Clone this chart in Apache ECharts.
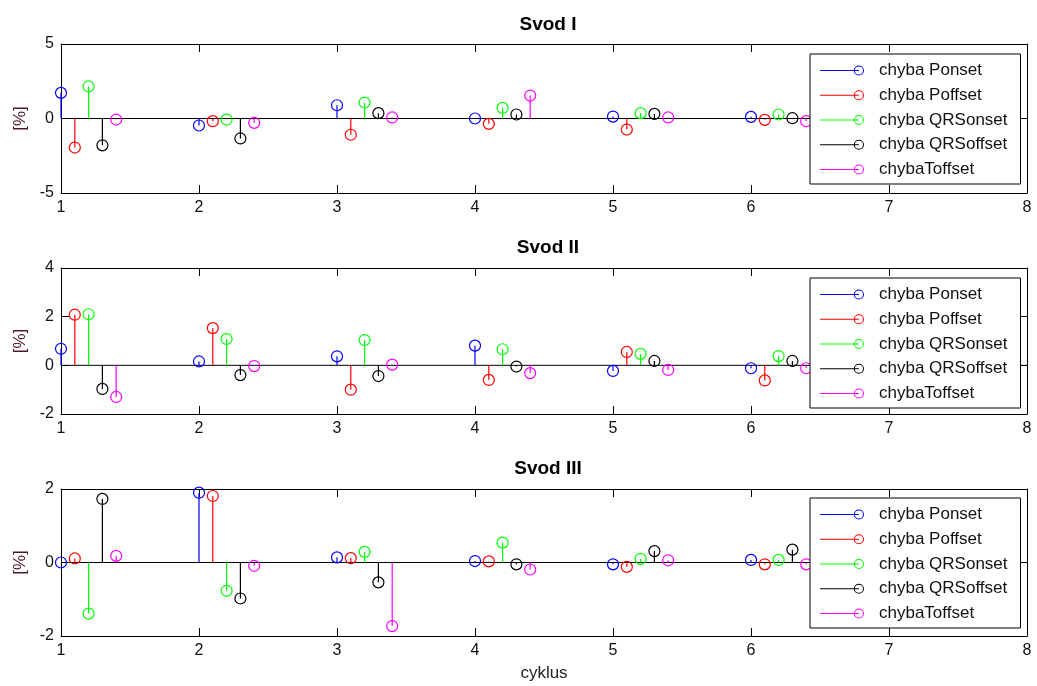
<!DOCTYPE html>
<html>
<head>
<meta charset="utf-8">
<script src="https://cdn.jsdelivr.net/npm/echarts@6/dist/echarts.min.js"></script>
<style>
  html, body { margin: 0; padding: 0; background: #ffffff; }
  #chart { width: 1037px; height: 686px; }
</style>
</head>
<body>
<div id="chart"></div>
<script>
// ---- data ----
const cycles = [1, 2, 3, 4, 5, 6];
const seriesOffsets = [0, 0.1, 0.2, 0.3, 0.4];
const seriesNames = ['chyba Ponset', 'chyba Poffset', 'chyba QRSonset', 'chyba QRSoffset', 'chybaToffset'];
const seriesColors = ['#0000ff', '#ff0000', '#00ff00', '#000000', '#ff00ff'];
const panelTitles = ['Svod I', 'Svod II', 'Svod III'];
const xTicks = [1, 2, 3, 4, 5, 6, 7, 8];

// Svod I
const svod1Ponset    = [1.72, -0.47, 0.89, 0.00, 0.13, 0.11];
const svod1Poffset   = [-1.95, -0.18, -1.09, -0.36, -0.74, -0.09];
const svod1QRSonset  = [2.15, -0.07, 1.07, 0.71, 0.36, 0.27];
const svod1QRSoffset = [-1.80, -1.34, 0.36, 0.27, 0.31, 0.02];
const svod1Toffset   = [-0.07, -0.29, 0.07, 1.54, 0.07, -0.18];
const svod1Ticks = [-5, 0, 5];

// Svod II
const svod2Ponset    = [0.68, 0.16, 0.37, 0.81, -0.23, -0.12];
const svod2Poffset   = [2.08, 1.53, -1.00, -0.60, 0.55, -0.62];
const svod2QRSonset  = [2.10, 1.08, 1.04, 0.66, 0.47, 0.38];
const svod2QRSoffset = [-0.97, -0.40, -0.44, -0.05, 0.18, 0.18];
const svod2Toffset   = [-1.30, -0.03, 0.03, -0.32, -0.19, -0.12];
const svod2Ticks = [-2, 0, 2, 4];

// Svod III
const svod3Ponset    = [0.00, 1.90, 0.14, 0.04, -0.05, 0.07];
const svod3Poffset   = [0.11, 1.81, 0.12, 0.03, -0.12, -0.05];
const svod3QRSonset  = [-1.39, -0.77, 0.29, 0.54, 0.10, 0.07];
const svod3QRSoffset = [1.73, -0.98, -0.54, -0.05, 0.31, 0.35];
const svod3Toffset   = [0.18, -0.09, -1.73, -0.19, 0.06, -0.05];
const svod3Ticks = [-2, 0, 2];

// ---- chart ----
const panels = [
  { values: [svod1Ponset, svod1Poffset, svod1QRSonset, svod1QRSoffset, svod1Toffset], ticks: svod1Ticks },
  { values: [svod2Ponset, svod2Poffset, svod2QRSonset, svod2QRSoffset, svod2Toffset], ticks: svod2Ticks },
  { values: [svod3Ponset, svod3Poffset, svod3QRSonset, svod3QRSoffset, svod3Toffset], ticks: svod3Ticks }
];

const gridLayout = [
  { top: 44, height: 149 },
  { top: 268, height: 146 },
  { top: 489, height: 147 }
];
const legendTops = [54, 278, 498];
const titleTops = [10, 233, 454];

const FONT = '"Liberation Sans", Arial, sans-serif';
const legendIcon = 'path://M0,5.5L38,5.5L38,6.5L0,6.5Z M33,6A5,5,0,1,1,43,6A5,5,0,1,1,33,6Z M34,6A4,4,0,1,0,42,6A4,4,0,1,0,34,6Z';

const grid = [], xAxis = [], yAxis = [], series = [], legend = [], title = [];

panels.forEach((p, gi) => {
  grid.push({ left: 61, right: 10, top: gridLayout[gi].top, height: gridLayout[gi].height });
  const ymin = p.ticks[0], ymax = p.ticks[p.ticks.length - 1];
  const yint = p.ticks[1] - p.ticks[0];
  const common = {
    type: 'value', gridIndex: gi, min: xTicks[0], max: xTicks[xTicks.length - 1], interval: 1,
    axisLine: { onZero: false, lineStyle: { color: '#000', width: 1 } },
    axisTick: { inside: true, length: 8, lineStyle: { color: '#000' } },
    splitLine: { show: false }
  };
  xAxis.push(Object.assign({}, common, {
    position: 'bottom',
    axisLabel: { color: '#111', fontSize: 16, fontFamily: FONT, margin: 7 },
    name: gi === 2 ? 'cyklus' : '',
    nameLocation: 'middle', nameGap: 29,
    nameTextStyle: { color: '#222', fontSize: 17, fontFamily: FONT }
  }));
  xAxis.push(Object.assign({}, common, { position: 'top', axisLabel: { show: false } }));
  const ycommon = {
    type: 'value', gridIndex: gi, min: ymin, max: ymax, interval: yint,
    axisLine: { onZero: false, lineStyle: { color: '#000', width: 1 } },
    axisTick: { inside: true, length: 8, lineStyle: { color: '#000' } },
    splitLine: { show: false }
  };
  yAxis.push(Object.assign({}, ycommon, {
    position: 'left',
    axisLabel: { color: '#111', fontSize: 16, fontFamily: FONT, margin: 7 },
    name: '[%]', nameLocation: 'middle', nameRotate: 90, nameGap: 27,
    nameTextStyle: { color: '#4a1a2a', fontSize: 17, fontFamily: FONT }
  }));
  yAxis.push(Object.assign({}, ycommon, { position: 'right', axisLabel: { show: false } }));

  // baseline at zero
  series.push({
    type: 'line', xAxisIndex: gi * 2, yAxisIndex: gi * 2,
    data: [[xTicks[0], 0], [xTicks[xTicks.length - 1], 0]],
    symbol: 'none', silent: true, z: 1,
    lineStyle: { color: '#000', width: 1 }
  });

  p.values.forEach((vals, si) => {
    const color = seriesColors[si];
    series.push({
      type: 'custom', name: seriesNames[si],
      xAxisIndex: gi * 2, yAxisIndex: gi * 2,
      itemStyle: { color: color },
      z: 3,
      data: vals.map((v, k) => [cycles[k] + seriesOffsets[si], v]),
      renderItem: function (params, api) {
        const x = api.value(0), y = api.value(1);
        const p0 = api.coord([x, 0]);
        const p1 = api.coord([x, y]);
        return {
          type: 'group',
          children: [
            { type: 'line', shape: { x1: p0[0], y1: p0[1], x2: p1[0], y2: p1[1] },
              style: { stroke: color, lineWidth: 1.2 } },
            { type: 'circle', shape: { cx: p1[0], cy: p1[1], r: 5.5 },
              style: { fill: 'none', stroke: color, lineWidth: 1.2 } }
          ]
        };
      }
    });
  });

  legend.push({
    data: seriesNames.map((n, si) => ({ name: n, icon: legendIcon, itemStyle: { color: seriesColors[si] } })),
    orient: 'vertical', left: 810, top: legendTops[gi],
    itemWidth: 44, itemHeight: 12, itemGap: 7.75,
    padding: [8, 13, 6, 10],
    backgroundColor: '#fff', borderColor: '#000', borderWidth: 1, borderRadius: 0,
    selectedMode: false, z: 10,
    textStyle: { color: '#111', fontSize: 17, fontFamily: FONT, lineHeight: 14, padding: [0, 0, 0, 10] }
  });

  title.push({
    text: panelTitles[gi], left: 543, top: titleTops[gi], textAlign: 'center',
    textStyle: { color: '#000', fontSize: 19, fontWeight: 'bold', fontFamily: FONT }
  });
});

const chart = echarts.init(document.getElementById('chart'), null, { renderer: 'canvas' });
chart.setOption({
  animation: false,
  backgroundColor: '#fff',
  title: title,
  grid: grid,
  xAxis: xAxis,
  yAxis: yAxis,
  legend: legend,
  series: series
});
</script>
</body>
</html>
